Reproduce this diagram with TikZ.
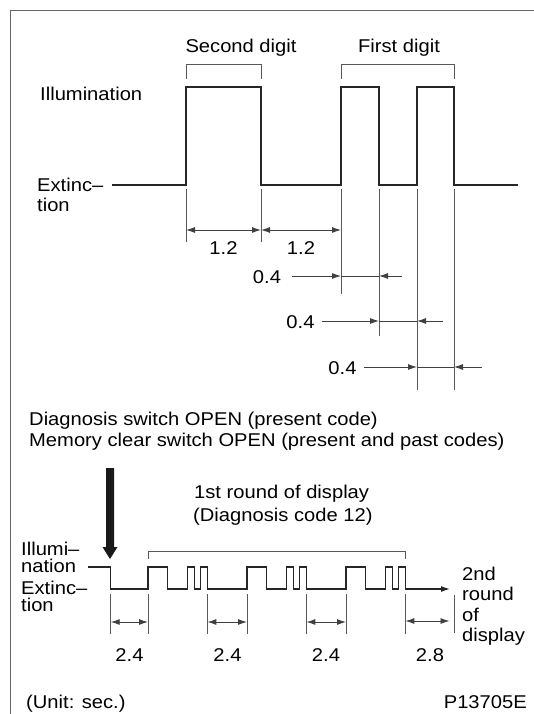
\documentclass[tikz,border=0pt]{standalone}
\usepackage{fontspec}
\setmainfont[FakeStretch=1.09]{Liberation Sans}
\usetikzlibrary{arrows.meta}
\begin{document}
\begin{tikzpicture}[x=1pt,y=-1pt,
  txt/.style={inner sep=0pt, font=\fontsize{18.5}{20}\selectfont},
  sig/.style={line width=1.2pt, draw=black!85},
  ext/.style={line width=0.9pt, draw=black!65},
  dim/.style={line width=0.9pt, draw=black!75},
  tipr/.style={-{Latex[length=9pt,width=6pt]}},
  tipb/.style={{Latex[length=9pt,width=6pt]}-{Latex[length=9pt,width=6pt]}},
  frame/.style={line width=1.3pt, draw=black!60}]
\useasboundingbox (0,0) rectangle (534,714);
% frame
\draw[frame] (10.5,714) -- (10.5,10.7) -- (534,10.7);

% ---------- top diagram ----------
\node[txt,anchor=base] (sd) at (241,52.5) {Second digit};
\node[txt,anchor=base] (fd) at (399,52.5) {First digit};
\draw[ext] (186,79) -- (186,64) -- (261,64) -- (261,79);
\draw[ext] (341,79) -- (341,64) -- (454,64) -- (454,79);
\node[txt,anchor=base west] (ill) at (40,101) {Illumination};
\node[txt,anchor=base west] (ext1) at (37,192) {Extinc–};
\node[txt,anchor=base west] (ext2) at (37,211) {tion};
\draw[sig] (112,185) -- (186,185) -- (186,87) -- (261,87) -- (261,185)
  -- (341,185) -- (341,87) -- (379,87) -- (379,185) -- (417,185)
  -- (417,87) -- (454,87) -- (454,185) -- (518,185);
% extension lines
\draw[ext] (186,189) -- (186,242);
\draw[ext] (261,189) -- (261,242);
\draw[ext] (341,189) -- (341,294);
\draw[ext] (379,189) -- (379,336);
\draw[ext] (417,189) -- (417,390);
\draw[ext] (454,189) -- (454,390);
% 1.2 dims
\draw[dim,tipb] (186,230) -- (261,230);
\draw[dim,tipb] (261,230) -- (341,230);
\node[txt,anchor=base] (d1) at (223.5,254) {1.2};
\node[txt,anchor=base] (d2) at (301,254) {1.2};
% 0.4 dims
\draw[dim,tipr] (292,276) -- (341,276);
\draw[dim] (341,276) -- (379,276);
\draw[dim,tipr] (402,276) -- (379,276);
\node[txt,anchor=base] (q1) at (267,283) {0.4};
\draw[dim,tipr] (322,321) -- (379,321);
\draw[dim] (379,321) -- (417,321);
\draw[dim,tipr] (443,321) -- (417,321);
\node[txt,anchor=base] (q2) at (300.5,328) {0.4};
\draw[dim,tipr] (364,367) -- (417,367);
\draw[dim] (417,367) -- (454,367);
\draw[dim,tipr] (482,367) -- (454,367);
\node[txt,anchor=base] (q3) at (342.5,374) {0.4};

% ---------- texts ----------
\node[txt,anchor=base west] (l1) at (29,425) {Diagnosis switch OPEN (present code)};
\node[txt,anchor=base west] (l2) at (29,446) {Memory clear switch OPEN (present and past codes)};

% ---------- bottom diagram ----------
\fill[black!90] (106,468) -- (114,468) -- (114,547) -- (117.5,547) -- (110,559)
  -- (102.5,547) -- (106,547) -- cycle;
\node[txt,anchor=base west] (r1) at (194,498) {1st round of display};
\node[txt,anchor=base west] (r2) at (193,521) {(Diagnosis code 12)};
\draw[ext] (148,559) -- (148,551.5) -- (405.4,551.5) -- (405.4,559);
\node[txt,anchor=base west] (b1) at (21,555) {Illumi–};
\node[txt,anchor=base west] (b2) at (21,572) {nation};
\node[txt,anchor=base west] (b3) at (21,594) {Extinc–};
\node[txt,anchor=base west] (b4) at (21,611) {tion};
\draw[sig] (88,567) -- (110.7,567) -- (110.7,589)
  \foreach \s in {148,247,346}{
    -- (\s,589) -- (\s,567) -- (\s+19.8,567) -- (\s+19.8,589) -- (\s+39.6,589)
    -- (\s+39.6,567) -- (\s+46.2,567) -- (\s+46.2,589) -- (\s+52.8,589)
    -- (\s+52.8,567) -- (\s+59.4,567) -- (\s+59.4,589) }
  -- (445,589);
\draw[sig,tipr] (440,589) -- (450,589);
% extension lines
\foreach \x in {110.7,148,207.4,247,306.4,346,405.4}
  \draw[ext] (\x,594) -- (\x,634);
\draw[ext] (454,595) -- (454,633);
\draw[dim,tipb] (110.7,622) -- (148,622);
\draw[dim,tipb] (207.4,622) -- (247,622);
\draw[dim,tipb] (306.4,622) -- (346,622);
\draw[dim,tipb] (405.4,621) -- (449.5,621);
\node[txt,anchor=base] (e1) at (129.5,661) {2.4};
\node[txt,anchor=base] (e2) at (227.5,661) {2.4};
\node[txt,anchor=base] (e3) at (326,661) {2.4};
\node[txt,anchor=base] (e4) at (430,661) {2.8};
\node[txt,anchor=base west] (n1) at (462,580) {2nd};
\node[txt,anchor=base west] (n2) at (462,600.5) {round};
\node[txt,anchor=base west] (n3) at (462,621) {of};
\node[txt,anchor=base west] (n4) at (462,641.5) {display};
\node[txt,anchor=base west] (u1) at (26,708) {(Unit: sec.)};
\node[txt,anchor=base east] (u2) at (527,708) {P13705E};
\end{tikzpicture}
\end{document}
